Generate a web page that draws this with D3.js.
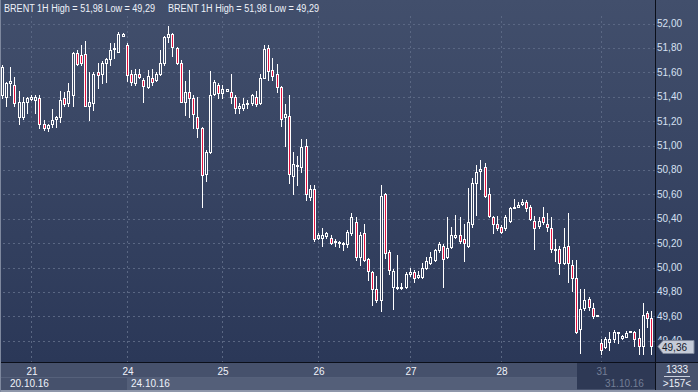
<!DOCTYPE html>
<html><head><meta charset="utf-8">
<script src="https://cdn.jsdelivr.net/npm/d3@7"></script>
<style>html,body{margin:0;padding:0;background:#2e3a58;overflow:hidden}svg{display:block}</style>
</head><body><svg id="c" width="698" height="392"></svg>
<script>
const title = "BRENT 1H High = 51,98 Low = 49,29";
const opens = [51.41,51.40,51.51,51.50,51.23,51.23,51.36,51.38,51.37,51.39,51.18,51.14,51.18,51.22,51.23,51.39,51.35,51.41,51.76,51.74,51.75,51.32,51.35,51.60,51.59,51.68,51.71,51.79,51.77,51.90,
51.82,51.59,51.51,51.59,51.54,51.48,51.55,51.54,51.59,51.68,51.89,51.91,51.80,51.68,51.36,51.44,51.39,51.23,51.14,50.77,50.95,51.42,51.50,51.43,51.45,51.44,51.40,51.31,51.31,51.34,
51.35,51.40,51.35,51.55,51.80,51.62,51.59,51.48,51.23,51.24,50.75,50.83,50.82,51.00,50.58,50.64,50.24,50.24,50.26,50.24,50.21,50.20,50.20,50.19,50.28,50.37,50.09,50.28,50.07,49.96,
49.82,49.73,50.60,50.13,49.84,49.83,49.83,49.84,49.95,49.96,49.92,49.92,50.00,50.04,50.06,50.14,50.18,50.09,50.17,50.25,50.27,50.23,50.18,50.36,50.69,50.79,50.82,50.60,50.41,50.36,
50.33,50.32,50.38,50.49,50.50,50.52,50.54,50.50,50.38,50.34,50.41,50.36,50.32,50.14,50.15,50.04,50.18,50.02,49.91,49.50,49.67,49.74,49.67,49.60,49.38,49.35,49.39,49.41,49.46,49.42,
49.43,49.47,49.47,49.42,49.36,49.63,49.59];
const highs = [51.66,51.52,51.64,51.56,51.45,51.40,51.40,51.41,51.41,51.41,51.21,51.18,51.30,51.24,51.45,51.44,51.51,51.77,51.78,51.82,51.86,51.60,51.60,51.68,51.69,51.72,51.84,51.84,51.93,51.92,
51.84,51.62,51.63,51.63,51.55,51.62,51.63,51.60,51.78,51.90,51.98,51.92,51.81,51.70,51.53,51.62,51.41,51.40,51.15,50.96,51.61,51.54,51.51,51.50,51.46,51.59,51.41,51.35,51.39,51.37,
51.42,51.45,51.59,51.82,51.82,51.72,51.67,51.49,51.34,51.41,50.95,50.91,51.05,51.05,50.68,50.68,50.28,50.32,50.29,50.27,50.23,50.22,50.21,50.31,50.45,50.41,50.29,50.36,50.08,49.97,
49.93,50.68,50.61,50.14,49.99,50.10,49.87,49.96,50.00,49.98,49.97,50.04,50.09,50.13,50.15,50.21,50.19,50.41,50.33,50.43,50.41,50.36,50.65,50.73,50.84,50.88,50.86,50.65,50.42,50.42,
50.35,50.43,50.50,50.56,50.54,50.56,50.55,50.51,50.42,50.41,50.50,50.45,50.41,50.23,50.18,50.32,50.45,50.06,50.06,49.82,49.82,49.76,49.71,49.61,49.41,49.43,49.47,49.49,49.47,49.45,
49.48,49.48,49.48,49.50,49.71,49.64,49.64];
const lows = [51.39,51.32,51.41,51.32,51.18,51.22,51.27,51.37,51.27,51.14,51.13,51.12,51.15,51.15,51.19,51.32,51.32,51.32,51.66,51.66,51.32,51.21,51.29,51.47,51.51,51.52,51.66,51.72,51.77,51.90,
51.53,51.50,51.50,51.55,51.36,51.47,51.50,51.53,51.58,51.66,51.85,51.73,51.67,51.36,51.25,51.23,51.14,51.07,50.50,50.71,50.94,51.41,51.39,51.39,51.45,51.35,51.27,51.27,51.29,51.31,
51.33,51.32,51.34,51.55,51.54,51.54,51.44,51.16,51.00,50.69,50.60,50.68,50.78,50.55,50.55,50.22,50.23,50.18,50.24,50.19,50.18,50.17,50.14,50.17,50.27,50.06,50.02,50.05,49.90,49.69,
49.72,49.64,50.08,49.95,49.66,49.82,49.82,49.83,49.93,49.88,49.91,49.91,49.99,50.03,50.05,50.13,49.84,50.08,50.16,50.24,50.20,50.05,50.17,50.33,50.43,50.64,50.58,50.41,50.28,50.31,
50.28,50.31,50.37,50.49,50.50,50.51,50.46,50.39,50.15,50.32,50.36,50.30,50.13,50.05,49.95,50.03,49.88,49.81,49.46,49.30,49.65,49.65,49.59,49.60,49.29,49.34,49.32,49.39,49.38,49.41,
49.43,49.47,49.36,49.29,49.29,49.51,49.29];
const closes = [51.64,51.51,51.53,51.35,51.36,51.36,51.39,51.40,51.40,51.18,51.14,51.17,51.21,51.23,51.37,51.34,51.45,51.76,51.67,51.68,51.32,51.36,51.59,51.58,51.68,51.71,51.78,51.80,51.91,51.91,
51.58,51.52,51.59,51.56,51.49,51.57,51.52,51.59,51.68,51.89,51.91,51.81,51.68,51.36,51.44,51.39,51.26,51.14,50.76,50.95,51.41,51.52,51.43,51.46,51.46,51.40,51.31,51.32,51.34,51.35,
51.41,51.34,51.55,51.79,51.61,51.57,51.48,51.22,51.26,50.77,50.85,50.84,50.99,50.60,50.64,50.23,50.27,50.27,50.28,50.20,50.22,50.21,50.19,50.29,50.41,50.09,50.27,50.06,49.97,49.82,
49.73,50.59,50.12,49.98,49.97,49.84,49.84,49.95,49.96,49.91,49.94,50.00,50.05,50.09,50.14,50.19,50.07,50.16,50.27,50.27,50.22,50.20,50.37,50.69,50.78,50.81,50.59,50.42,50.36,50.32,
50.29,50.41,50.49,50.50,50.51,50.54,50.49,50.40,50.32,50.38,50.37,50.33,50.15,50.15,50.04,50.17,50.04,49.91,49.47,49.66,49.73,49.68,49.60,49.61,49.32,49.41,49.41,49.47,49.47,49.44,
49.46,49.48,49.41,49.36,49.61,49.59,49.36];
const dayLabels = ["21","24","25","26","27","28","31"];
const dayStarts = [7,30,53,76,98,120,144];
const weekLabels = ["20.10.16","24.10.16","31.10.16"];
const yTicks = [52.00,51.80,51.60,51.40,51.20,51.00,50.80,50.60,50.40,50.20,50.00,49.80,49.60,49.40];
const lastPrice = 49.36;
const barsCount = ">157<";
const volumeLabel = "1333";

const W = 698, H = 392;
const plotRight = 655, plotBottom = 362;
const font = "'Liberation Sans', Arial, sans-serif";
const svg = d3.select("#c");
const defs = svg.append("defs");
const g1 = defs.append("linearGradient").attr("id","bg").attr("x1",0).attr("y1",0).attr("x2",0).attr("y2",1);
g1.append("stop").attr("offset","0%").attr("stop-color","#424f6c");
g1.append("stop").attr("offset","100%").attr("stop-color","#2b3858");
svg.append("rect").attr("width",W).attr("height",plotBottom).attr("fill","url(#bg)");

const n = opens.length;
const x = d3.scaleLinear().domain([0, n-1]).range([1.9, 651]);
const y = d3.scaleLinear().domain([52, 50]).range([23.5, 267.5]);
const fmt = v => d3.format(".2f")(v).replace(".", ",");

// horizontal grid
svg.append("g").selectAll("line").data(yTicks).join("line")
  .attr("x1",3).attr("x2",plotRight)
  .attr("y1",d=>Math.round(y(d))+0.5).attr("y2",d=>Math.round(y(d))+0.5)
  .attr("stroke","#5a6783").attr("stroke-dasharray","2,3");
// vertical grid
svg.append("g").selectAll("line").data(dayStarts).join("line")
  .attr("x1",d=>Math.round(x(d))+0.5).attr("x2",d=>Math.round(x(d))+0.5)
  .attr("y1",16).attr("y2",plotBottom)
  .attr("stroke","#5a6783").attr("stroke-dasharray","2,3");

// candles
const idx = d3.range(n);
const cg = svg.append("g");
idx.forEach(i => {
  const cx = Math.round(x(i));
  const o = opens[i], c = closes[i];
  const top = Math.round(y(Math.max(o,c)));
  let bot = Math.round(y(Math.min(o,c)));
  if (bot - top < 1) bot = top + 1;
  const yh = Math.round(y(highs[i])), yl = Math.round(y(lows[i]));
  const wx = cx + 0.5;
  if (yh < top) cg.append("line").attr("x1",wx).attr("x2",wx).attr("y1",yh).attr("y2",top).attr("stroke","#ffffff");
  if (yl > bot) cg.append("line").attr("x1",wx).attr("x2",wx).attr("y1",bot+1).attr("y2",yl+1).attr("stroke","#ffffff");
  cg.append("rect").attr("x",cx-1+0.5).attr("y",top+0.5).attr("width",2).attr("height",bot-top)
    .attr("fill", c < o ? "#e3123f" : "none").attr("stroke","#ffffff").attr("stroke-width",1);
});

// header
[4, 168].forEach(hx => {
  svg.append("text").attr("x",hx).attr("y",12).attr("font-family",font).attr("font-size",10)
    .attr("textLength",151).attr("lengthAdjust","spacingAndGlyphs")
    .attr("fill","#eef2fa").text(title);
});

// right axis
svg.append("rect").attr("x",plotRight+1).attr("y",0).attr("width",W-plotRight-1).attr("height",plotBottom).attr("fill","url(#bg)");
svg.append("line").attr("x1",plotRight+0.5).attr("x2",plotRight+0.5).attr("y1",0).attr("y2",H).attr("stroke","#0b0f1a");
svg.append("g").selectAll("text").data(yTicks.filter(d => Math.abs(y(d)-y(lastPrice)) > 8)).join("text")
  .attr("x",657).attr("y",d=>y(d)+3.5).attr("font-family",font).attr("font-size",10)
  .attr("fill","#d6e0f2").text(d=>fmt(d));
// hidden-behind-tag label (mostly covered, as in the reference)
const coveredTick = yTicks.filter(d => Math.abs(y(d)-y(lastPrice)) <= 8);
defs.append("clipPath").attr("id","tagclip").append("rect").attr("x",656).attr("y",0).attr("width",42).attr("height",Math.round(y(lastPrice))-6);
svg.append("g").attr("clip-path","url(#tagclip)").selectAll("text").data(coveredTick).join("text")
  .attr("x",657).attr("y",d=>y(d)+3.5).attr("font-family",font).attr("font-size",10)
  .attr("fill","#d6e0f2").text(d=>fmt(d));
// price tag
const ly = Math.round(y(lastPrice))+0.5;
svg.append("path").attr("d",`M658,${ly} L663,${ly-6} L694,${ly-6} L694,${ly+7} L663,${ly+7} Z`)
  .attr("fill","#c5cbd8").attr("stroke","#7f889c");
svg.append("text").attr("x",662).attr("y",ly+4).attr("font-family",font).attr("font-size",10)
  .attr("fill","#141a2a").text(fmt(lastPrice));

// bottom panel
svg.append("rect").attr("x",0).attr("y",plotBottom).attr("width",W).attr("height",H-plotBottom).attr("fill","#46516c");
svg.append("rect").attr("x",Math.round(x(dayStarts[1])) ).attr("y",377).attr("width",577-Math.round(x(dayStarts[1]))).attr("height",13).attr("fill","#545f79");
svg.append("line").attr("x1",0).attr("x2",plotRight).attr("y1",377.5).attr("y2",377.5).attr("stroke","#56617b");
svg.append("rect").attr("x",577).attr("y",363).attr("width",plotRight-577).attr("height",26).attr("fill","#2e3955");
svg.append("line").attr("x1",0).attr("x2",W).attr("y1",plotBottom+0.5).attr("y2",plotBottom+0.5).attr("stroke","#0b0f1a");
svg.append("line").attr("x1",plotRight+0.5).attr("x2",plotRight+0.5).attr("y1",plotBottom).attr("y2",H).attr("stroke","#0b0f1a");
svg.append("rect").attr("x",0).attr("y",390).attr("width",W).attr("height",2).attr("fill","#8e97aa");
svg.append("rect").attr("x",0).attr("y",0).attr("width",1).attr("height",H).attr("fill","#7e889e");

svg.append("g").selectAll("text").data(dayLabels).join("text")
  .attr("x",(d,i)=>Math.round(x(dayStarts[i]))+1).attr("y",374.5).attr("text-anchor","middle")
  .attr("font-family",font).attr("font-size",10)
  .attr("fill",(d,i)=> i===dayLabels.length-1 ? "#737e95" : "#f0f3fa").text(d=>d);
const weekX = [10, 131, 605];
svg.append("g").selectAll("text").data(weekLabels).join("text")
  .attr("x",(d,i)=>weekX[i]).attr("y",386.5)
  .attr("font-family",font).attr("font-size",10)
  .attr("fill",(d,i)=> i===2 ? "#737e95" : "#eef2fa").text(d=>d);
svg.append("text").attr("x",677).attr("y",373).attr("text-anchor","middle").attr("font-family",font)
  .attr("font-size",10).attr("fill","#eef2fa").text(volumeLabel);
svg.append("line").attr("x1",664).attr("x2",690).attr("y1",376.5).attr("y2",376.5).attr("stroke","#c9d0de");
svg.append("text").attr("x",677).attr("y",387).attr("text-anchor","middle").attr("font-family",font)
  .attr("font-size",10).attr("fill","#eef2fa").text(barsCount);
</script></body></html>
